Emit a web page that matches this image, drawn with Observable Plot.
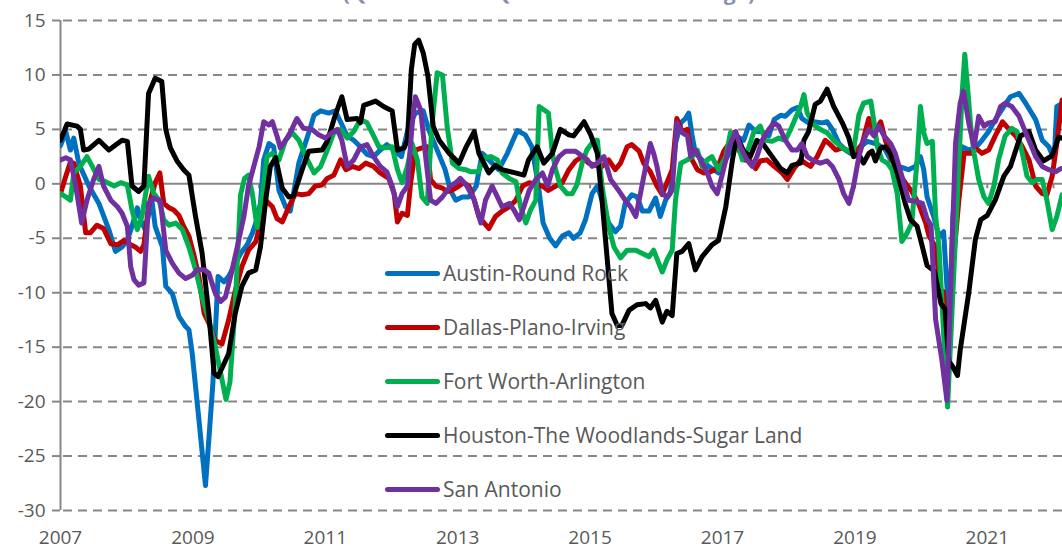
<!DOCTYPE html>
<html><head><meta charset="utf-8">
<script src="https://cdn.jsdelivr.net/npm/d3@7"></script>
<script src="https://cdn.jsdelivr.net/npm/@observablehq/plot@0.6"></script>
<style>
html,body{margin:0;padding:0;background:#fff;overflow:hidden;}
#wrap{position:relative;width:1062px;height:552px;overflow:hidden;font-family:"Open Sans",sans-serif;}
#title{position:absolute;left:0;width:1098px;text-align:center;top:-18px;line-height:20px;font-weight:bold;font-size:21px;color:#8a8fb5;white-space:nowrap;z-index:2;}
#chart{position:absolute;left:0;top:0;}
.lg{position:absolute;left:385px;height:0;white-space:nowrap;font-size:21px;color:#595959;}
.lg .sw{position:absolute;left:0;top:-2.5px;width:55px;height:5px;border-radius:3px;}
.lg .tx{position:absolute;left:58px;top:-15px;line-height:30px;}
</style></head>
<body>
<div id="wrap">
  <div id="title">(Quarter-over-Quarter Percent Change)</div>
  <div id="chart"></div>
  <div id="legend"></div>
</div>
<script>
const seriesNames = ["Austin-Round Rock","Dallas-Plano-Irving","Fort Worth-Arlington","Houston-The Woodlands-Sugar Land","San Antonio"];
const seriesColors = ["#0070C0","#C00000","#00B050","#000000","#7030A0"];
const yTicks = [-30,-25,-20,-15,-10,-5,0,5,10,15];
const xTickLabels = [2007,2009,2011,2013,2015,2017,2019,2021];
const xTickMarks = [2008,2009,2010,2011,2012,2013,2014,2015,2016,2017,2018,2019,2020,2021,2022];

const austin = [[2007.00,3.5],[2007.08,4.8],[2007.15,3.1],[2007.20,4.2],[2007.28,1.8],[2007.43,-0.2],[2007.58,-1.8],[2007.73,-4.2],[2007.83,-6.2],[2007.93,-5.8],[2008.01,-5.2],[2008.08,-3.9],[2008.16,-2.2],[2008.21,-3.3],[2008.28,-4.2],[2008.38,-1.5],[2008.43,-3.9],[2008.54,-5.8],[2008.59,-9.4],[2008.69,-10.1],[2008.79,-12.2],[2008.89,-13.1],[2008.94,-13.4],[2008.99,-15.6],[2009.08,-21.0],[2009.19,-27.7],[2009.30,-18.5],[2009.38,-8.5],[2009.47,-9.0],[2009.54,-8.5],[2009.72,-6.4],[2009.82,-5.6],[2009.90,-4.5],[2009.95,-3.6],[2010.02,-1.8],[2010.07,2.2],[2010.15,3.7],[2010.22,3.4],[2010.30,-0.6],[2010.40,-2.1],[2010.47,-2.5],[2010.52,-0.9],[2010.60,1.9],[2010.75,4.7],[2010.83,6.3],[2010.93,6.7],[2011.05,6.5],[2011.15,6.7],[2011.23,5.7],[2011.33,4.4],[2011.43,4.0],[2011.53,3.4],[2011.63,2.7],[2011.73,2.5],[2011.83,3.1],[2011.93,3.6],[2012.05,3.0],[2012.15,2.5],[2012.26,5.3],[2012.36,6.5],[2012.48,6.7],[2012.56,5.0],[2012.71,2.8],[2012.81,1.3],[2012.89,-0.6],[2012.97,-1.5],[2013.07,-1.2],[2013.17,-1.2],[2013.28,-0.2],[2013.37,2.8],[2013.47,2.2],[2013.62,1.3],[2013.75,2.8],[2013.90,4.9],[2014.02,4.5],[2014.12,3.4],[2014.22,-0.2],[2014.29,-3.6],[2014.39,-5.0],[2014.48,-5.7],[2014.58,-4.8],[2014.68,-4.5],[2014.75,-5.0],[2014.85,-4.5],[2014.93,-3.3],[2015.03,-0.9],[2015.11,-0.2],[2015.18,-1.5],[2015.28,-3.6],[2015.38,-4.4],[2015.46,-3.9],[2015.53,-1.8],[2015.63,-1.0],[2015.71,-1.2],[2015.79,-2.5],[2015.89,-2.5],[2015.99,-1.3],[2016.06,-3.0],[2016.14,-1.5],[2016.21,-0.9],[2016.29,3.7],[2016.37,5.6],[2016.44,6.0],[2016.49,6.5],[2016.54,4.5],[2016.59,2.8],[2016.79,1.6],[2016.94,1.0],[2017.10,2.8],[2017.20,4.4],[2017.32,4.0],[2017.40,5.4],[2017.50,4.8],[2017.60,4.8],[2017.70,4.4],[2017.78,5.9],[2017.88,6.3],[2017.95,6.2],[2018.05,6.8],[2018.13,7.0],[2018.20,6.0],[2018.30,5.6],[2018.38,5.7],[2018.51,5.6],[2018.58,5.7],[2018.66,5.0],[2018.76,3.7],[2018.86,3.1],[2018.96,2.7],[2019.06,3.3],[2019.19,3.9],[2019.31,3.7],[2019.44,3.3],[2019.54,2.2],[2019.66,1.6],[2019.81,1.3],[2019.91,1.6],[2019.99,2.5],[2020.04,1.3],[2020.09,-1.2],[2020.19,-3.0],[2020.27,-4.8],[2020.34,-4.4],[2020.39,-9.4],[2020.43,-12.5],[2020.48,-3.0],[2020.55,1.3],[2020.62,3.4],[2020.72,3.1],[2020.82,3.3],[2020.92,4.0],[2021.02,4.8],[2021.12,5.9],[2021.25,7.1],[2021.35,8.0],[2021.48,8.3],[2021.58,7.4],[2021.73,5.9],[2021.83,4.0],[2021.93,3.4],[2022.01,2.2],[2022.05,7.1],[2022.13,7.4]];

const dallas = [[2007.00,-0.9],[2007.08,0.7],[2007.15,2.0],[2007.20,1.9],[2007.30,-0.2],[2007.38,-4.5],[2007.45,-4.5],[2007.55,-3.8],[2007.65,-4.1],[2007.76,-5.5],[2007.86,-5.6],[2007.96,-5.2],[2008.06,-5.6],[2008.13,-5.8],[2008.21,-6.2],[2008.26,-5.6],[2008.33,-2.1],[2008.43,0.1],[2008.50,1.0],[2008.56,-1.8],[2008.64,-2.2],[2008.71,-2.4],[2008.79,-2.9],[2008.86,-3.9],[2008.94,-4.8],[2009.01,-6.4],[2009.09,-8.5],[2009.17,-11.9],[2009.24,-12.8],[2009.34,-14.4],[2009.44,-14.7],[2009.54,-12.5],[2009.64,-9.8],[2009.74,-7.6],[2009.84,-6.1],[2009.95,-5.3],[2010.02,-3.6],[2010.10,-1.5],[2010.20,-2.1],[2010.27,-3.2],[2010.35,-3.5],[2010.45,-2.1],[2010.55,-0.9],[2010.65,-1.0],[2010.75,-0.9],[2010.85,-0.2],[2010.95,-0.1],[2011.03,0.5],[2011.13,0.8],[2011.23,2.2],[2011.31,1.3],[2011.41,1.6],[2011.51,1.4],[2011.61,1.9],[2011.73,1.6],[2011.83,1.0],[2011.96,0.5],[2012.04,-0.9],[2012.09,-3.5],[2012.16,-2.7],[2012.24,-2.9],[2012.29,0.1],[2012.36,3.1],[2012.46,3.3],[2012.54,3.4],[2012.59,0.4],[2012.67,-0.2],[2012.77,-0.4],[2012.84,-0.7],[2012.91,-0.6],[2013.02,-0.2],[2013.09,0.1],[2013.17,-0.2],[2013.25,-1.5],[2013.32,-3.0],[2013.40,-3.6],[2013.47,-4.1],[2013.57,-3.0],[2013.67,-2.5],[2013.78,-2.1],[2013.88,-1.5],[2013.98,-0.2],[2014.08,0.1],[2014.18,-0.1],[2014.28,-0.2],[2014.37,-0.6],[2014.48,-0.2],[2014.58,0.1],[2014.68,1.3],[2014.78,2.1],[2014.88,2.5],[2014.98,1.9],[2015.08,1.7],[2015.18,1.6],[2015.28,2.2],[2015.38,1.3],[2015.46,1.9],[2015.56,3.4],[2015.63,3.6],[2015.74,3.0],[2015.81,1.9],[2015.91,1.1],[2016.01,-0.2],[2016.09,-1.0],[2016.16,0.1],[2016.24,1.3],[2016.31,6.0],[2016.39,4.8],[2016.47,5.0],[2016.54,2.2],[2016.62,1.3],[2016.72,1.0],[2016.82,1.1],[2016.92,1.4],[2017.02,3.0],[2017.10,3.7],[2017.17,4.7],[2017.25,3.1],[2017.32,2.2],[2017.42,2.1],[2017.50,1.4],[2017.57,2.1],[2017.67,2.2],[2017.78,1.6],[2017.90,1.0],[2017.98,0.4],[2018.08,1.4],[2018.18,2.2],[2018.25,1.9],[2018.33,1.6],[2018.43,2.5],[2018.55,4.0],[2018.63,3.6],[2018.71,3.1],[2018.81,3.3],[2018.91,3.0],[2019.01,2.8],[2019.11,3.7],[2019.21,6.0],[2019.29,4.7],[2019.39,5.7],[2019.46,4.0],[2019.56,2.2],[2019.66,1.0],[2019.76,0.1],[2019.86,-0.7],[2019.96,-1.8],[2020.07,-3.6],[2020.12,-4.8],[2020.22,-5.8],[2020.29,-9.8],[2020.34,-9.9],[2020.41,-17.0],[2020.49,-7.0],[2020.57,-1.5],[2020.65,2.8],[2020.75,2.8],[2020.82,3.3],[2020.92,2.8],[2021.02,3.1],[2021.12,4.4],[2021.23,5.7],[2021.33,5.0],[2021.43,4.4],[2021.53,3.4],[2021.63,2.2],[2021.73,-0.2],[2021.83,-0.9],[2021.90,-1.0],[2021.98,0.7],[2022.05,3.7],[2022.13,7.7]];

const fortWorth = [[2007.00,-0.9],[2007.08,-1.2],[2007.15,-1.5],[2007.20,1.0],[2007.30,1.6],[2007.40,2.5],[2007.48,1.6],[2007.58,0.4],[2007.68,0.2],[2007.81,-0.2],[2007.91,0.1],[2008.01,-0.1],[2008.08,-2.4],[2008.16,-4.2],[2008.23,-3.0],[2008.33,0.7],[2008.41,-0.9],[2008.49,-1.5],[2008.56,-3.3],[2008.64,-3.8],[2008.74,-3.6],[2008.84,-4.2],[2008.94,-5.8],[2009.04,-7.9],[2009.14,-10.4],[2009.24,-12.5],[2009.34,-15.0],[2009.42,-17.4],[2009.50,-19.8],[2009.56,-18.2],[2009.64,-11.0],[2009.72,-1.0],[2009.78,0.5],[2009.84,0.8],[2009.90,-1.0],[2009.97,-4.0],[2010.05,-1.0],[2010.12,2.5],[2010.20,2.8],[2010.30,2.2],[2010.40,4.0],[2010.50,4.7],[2010.60,4.0],[2010.73,2.2],[2010.83,1.0],[2010.93,1.6],[2011.03,3.1],[2011.13,4.7],[2011.23,5.0],[2011.33,4.2],[2011.43,4.8],[2011.53,5.9],[2011.63,5.6],[2011.73,4.4],[2011.81,3.4],[2011.91,3.3],[2012.01,3.4],[2012.09,1.3],[2012.16,0.1],[2012.24,1.6],[2012.31,3.7],[2012.39,2.2],[2012.46,-1.2],[2012.54,-1.8],[2012.61,5.3],[2012.69,10.2],[2012.77,10.0],[2012.84,5.3],[2012.92,1.9],[2013.02,1.4],[2013.12,1.3],[2013.20,1.1],[2013.31,1.1],[2013.40,2.4],[2013.50,2.5],[2013.60,2.2],[2013.67,1.0],[2013.78,0.5],[2013.88,0.2],[2013.95,-2.1],[2014.03,-3.6],[2014.10,-2.4],[2014.18,-1.5],[2014.23,7.1],[2014.30,6.8],[2014.37,6.5],[2014.43,2.8],[2014.48,1.3],[2014.55,-0.2],[2014.65,-0.9],[2014.73,-0.9],[2014.80,-0.1],[2014.88,1.9],[2014.95,3.1],[2015.06,4.0],[2015.11,4.0],[2015.18,-0.2],[2015.28,-3.9],[2015.36,-5.8],[2015.46,-6.8],[2015.56,-6.1],[2015.69,-6.1],[2015.79,-6.4],[2015.89,-6.7],[2015.96,-6.1],[2016.09,-8.1],[2016.16,-7.0],[2016.24,-6.1],[2016.29,-1.5],[2016.37,1.9],[2016.47,2.2],[2016.54,2.5],[2016.62,3.1],[2016.69,1.6],[2016.77,2.2],[2016.84,2.5],[2016.94,1.3],[2017.05,2.5],[2017.12,4.7],[2017.22,4.0],[2017.30,2.2],[2017.40,3.4],[2017.47,4.7],[2017.57,5.3],[2017.65,4.0],[2017.75,3.9],[2017.85,4.2],[2017.95,4.0],[2018.03,5.0],[2018.10,6.0],[2018.18,7.1],[2018.23,8.2],[2018.28,6.5],[2018.38,5.4],[2018.48,5.0],[2018.58,4.7],[2018.68,4.0],[2018.81,3.3],[2018.91,3.0],[2018.98,3.1],[2019.06,6.3],[2019.13,7.4],[2019.24,7.6],[2019.29,5.6],[2019.34,3.4],[2019.41,2.2],[2019.49,1.9],[2019.56,1.3],[2019.64,-0.9],[2019.71,-5.3],[2019.79,-4.5],[2019.86,-3.6],[2019.94,2.2],[2019.99,7.1],[2020.04,4.7],[2020.09,3.7],[2020.17,3.9],[2020.22,-3.0],[2020.27,-5.8],[2020.40,-20.5],[2020.62,8.3],[2020.66,11.9],[2020.70,9.0],[2020.75,5.3],[2020.80,2.8],[2020.87,0.4],[2020.95,-1.2],[2021.02,-1.8],[2021.10,-0.2],[2021.17,2.2],[2021.27,4.4],[2021.37,5.1],[2021.45,4.8],[2021.53,2.8],[2021.60,0.7],[2021.68,0.1],[2021.75,0.4],[2021.83,0.4],[2021.90,-1.5],[2021.98,-4.2],[2022.05,-3.0],[2022.13,-1.0]];

const houston = [[2007.00,4.0],[2007.10,5.5],[2007.25,5.3],[2007.30,5.0],[2007.35,3.1],[2007.43,3.2],[2007.58,4.0],[2007.73,3.1],[2007.93,4.0],[2008.01,3.9],[2008.08,-0.2],[2008.18,-0.7],[2008.26,-0.2],[2008.33,8.3],[2008.43,9.7],[2008.53,9.4],[2008.59,5.0],[2008.66,3.3],[2008.76,2.1],[2008.86,1.3],[2008.94,0.8],[2009.04,-3.0],[2009.14,-6.4],[2009.24,-11.9],[2009.32,-17.4],[2009.38,-17.7],[2009.54,-15.6],[2009.64,-11.9],[2009.74,-9.4],[2009.84,-8.2],[2009.95,-7.9],[2010.02,-5.8],[2010.10,-1.5],[2010.17,1.6],[2010.25,2.4],[2010.35,-0.4],[2010.45,-1.2],[2010.52,-1.1],[2010.65,1.3],[2010.75,3.0],[2010.95,3.1],[2011.03,3.9],[2011.15,6.3],[2011.25,8.0],[2011.33,5.9],[2011.48,6.0],[2011.53,5.6],[2011.58,7.2],[2011.76,7.6],[2011.88,7.1],[2012.01,6.7],[2012.09,3.1],[2012.19,3.3],[2012.24,4.0],[2012.30,10.5],[2012.35,12.8],[2012.41,13.2],[2012.48,12.0],[2012.55,9.9],[2012.63,5.3],[2012.72,4.0],[2012.87,2.8],[2012.97,2.2],[2013.02,1.9],[2013.12,3.3],[2013.25,4.8],[2013.32,2.8],[2013.47,1.0],[2013.57,1.7],[2013.67,1.3],[2013.87,1.0],[2014.00,0.8],[2014.07,2.2],[2014.20,3.4],[2014.30,1.9],[2014.43,2.8],[2014.55,5.0],[2014.68,4.5],[2014.75,4.4],[2014.91,5.7],[2015.01,4.5],[2015.11,2.8],[2015.18,-1.5],[2015.26,-7.0],[2015.33,-11.9],[2015.41,-13.0],[2015.48,-13.0],[2015.59,-11.6],[2015.71,-11.1],[2015.84,-11.0],[2015.91,-11.4],[2015.99,-10.7],[2016.09,-12.7],[2016.16,-11.7],[2016.24,-12.1],[2016.31,-6.4],[2016.39,-6.2],[2016.49,-5.5],[2016.59,-7.9],[2016.69,-6.7],[2016.84,-5.6],[2016.94,-5.2],[2017.05,-2.1],[2017.15,2.2],[2017.22,4.4],[2017.32,3.0],[2017.42,2.5],[2017.52,4.0],[2017.62,3.6],[2017.75,2.5],[2017.88,1.4],[2017.98,1.0],[2018.05,1.7],[2018.18,1.9],[2018.23,4.0],[2018.30,4.8],[2018.40,7.3],[2018.48,7.6],[2018.58,8.7],[2018.68,7.1],[2018.81,5.6],[2018.91,4.2],[2018.98,2.5],[2019.06,2.7],[2019.13,1.9],[2019.21,2.8],[2019.26,3.0],[2019.31,2.1],[2019.39,3.3],[2019.46,3.4],[2019.54,2.8],[2019.64,1.0],[2019.76,-1.8],[2019.84,-3.3],[2019.94,-3.9],[2020.02,-5.8],[2020.09,-7.5],[2020.20,-8.0],[2020.30,-11.0],[2020.36,-11.5],[2020.42,-16.3],[2020.48,-16.8],[2020.55,-17.6],[2020.59,-15.3],[2020.72,-10.0],[2020.82,-5.1],[2020.90,-3.3],[2021.00,-2.9],[2021.12,-1.5],[2021.25,0.7],[2021.35,1.6],[2021.50,4.4],[2021.63,4.8],[2021.73,3.1],[2021.85,2.1],[2021.98,2.6],[2022.08,4.3],[2022.13,4.2]];

const sanAntonio = [[2007.00,2.2],[2007.08,2.4],[2007.15,2.2],[2007.23,-0.2],[2007.32,-3.6],[2007.40,-1.5],[2007.50,0.4],[2007.58,1.6],[2007.65,-0.2],[2007.76,-1.5],[2007.86,-2.1],[2007.93,-2.7],[2008.01,-3.9],[2008.06,-7.6],[2008.11,-8.8],[2008.18,-9.3],[2008.26,-9.1],[2008.33,-1.8],[2008.41,-1.3],[2008.51,-1.6],[2008.59,-6.1],[2008.69,-7.3],[2008.79,-8.2],[2008.89,-8.7],[2008.99,-8.4],[2009.06,-7.9],[2009.17,-7.9],[2009.24,-8.2],[2009.34,-10.1],[2009.42,-10.8],[2009.49,-10.4],[2009.57,-8.5],[2009.67,-5.8],[2009.77,-3.0],[2009.84,-0.2],[2009.92,1.6],[2010.00,3.4],[2010.07,5.7],[2010.15,5.4],[2010.20,5.7],[2010.27,4.4],[2010.32,3.3],[2010.40,4.0],[2010.47,4.7],[2010.57,6.0],[2010.67,5.1],[2010.80,5.0],[2010.90,4.5],[2011.00,4.2],[2011.10,4.7],[2011.18,5.0],[2011.25,4.0],[2011.33,1.6],[2011.43,2.2],[2011.53,3.4],[2011.63,3.6],[2011.73,2.5],[2011.83,1.6],[2011.93,1.1],[2012.01,-0.2],[2012.09,-2.1],[2012.16,-0.9],[2012.24,-0.2],[2012.31,5.3],[2012.36,8.0],[2012.44,6.8],[2012.51,2.8],[2012.59,-1.5],[2012.67,-1.8],[2012.77,-1.2],[2012.89,-0.2],[2012.97,0.1],[2013.04,0.5],[2013.14,-0.2],[2013.25,-1.5],[2013.35,-3.6],[2013.42,-1.5],[2013.52,-0.2],[2013.60,-1.2],[2013.67,-2.1],[2013.78,-1.8],[2013.85,-2.4],[2013.93,-3.3],[2014.00,-2.1],[2014.08,-0.6],[2014.18,0.4],[2014.28,1.0],[2014.36,-0.2],[2014.43,1.3],[2014.53,2.5],[2014.63,3.0],[2014.78,3.0],[2014.96,2.2],[2015.03,1.6],[2015.11,1.9],[2015.21,2.5],[2015.31,0.4],[2015.43,-0.6],[2015.53,-1.5],[2015.61,-2.1],[2015.69,-3.0],[2015.76,-0.9],[2015.84,1.6],[2015.91,3.7],[2015.96,2.8],[2016.01,1.6],[2016.09,-0.9],[2016.16,-1.2],[2016.24,-0.6],[2016.31,5.6],[2016.39,4.7],[2016.47,4.4],[2016.52,2.5],[2016.59,3.1],[2016.67,2.2],[2016.77,1.0],[2016.84,-0.2],[2016.92,-0.9],[2016.99,0.7],[2017.10,3.4],[2017.20,4.8],[2017.27,3.4],[2017.37,2.2],[2017.45,1.6],[2017.52,2.5],[2017.60,4.0],[2017.70,5.0],[2017.78,5.6],[2017.85,5.3],[2017.95,4.0],[2018.05,3.1],[2018.13,3.1],[2018.20,3.7],[2018.28,2.5],[2018.38,2.1],[2018.48,1.9],[2018.58,2.1],[2018.66,1.6],[2018.76,0.4],[2018.83,-0.9],[2018.91,-1.8],[2018.98,-0.2],[2019.06,2.5],[2019.13,4.0],[2019.21,5.0],[2019.29,4.4],[2019.36,5.3],[2019.44,4.4],[2019.54,3.7],[2019.61,2.8],[2019.71,0.7],[2019.81,-1.5],[2019.92,-1.6],[2020.02,-1.8],[2020.09,-3.2],[2020.15,-3.8],[2020.22,-12.5],[2020.31,-16.0],[2020.39,-19.9],[2020.52,3.7],[2020.59,7.4],[2020.64,8.5],[2020.72,5.6],[2020.80,3.4],[2020.87,6.2],[2020.95,5.3],[2021.02,5.6],[2021.12,5.7],[2021.20,7.1],[2021.27,7.4],[2021.37,7.1],[2021.48,6.2],[2021.58,4.7],[2021.65,3.7],[2021.73,2.5],[2021.83,1.6],[2021.93,1.3],[2022.03,1.1],[2022.11,1.4]];

const seriesData = [austin, dallas, fortWorth, houston, sanAntonio];
const grid = "#878787";

const lineMarks = seriesData.map((arr, i) =>
  Plot.line(arr, {x: d => d[0], y: d => d[1], stroke: seriesColors[i], strokeWidth: 5,
    strokeLinejoin: "round", strokeLinecap: "round", clip: true}));

const chart = Plot.plot({
  width: 1062, height: 552,
  marginLeft: 60, marginRight: 0, marginTop: 20, marginBottom: 42,
  x: {domain: [2007, 2022.136], axis: null},
  y: {domain: [-30, 15], axis: null},
  style: {fontFamily: "'Open Sans', sans-serif", fontSize: "19px", color: "#595959", background: "transparent", overflow: "visible"},
  marks: [
    Plot.ruleY(yTicks.filter(d => d !== 0), {stroke: grid, strokeWidth: 2, strokeDasharray: "9,6", strokeDashoffset: -3}),
    Plot.ruleY([0], {stroke: grid, strokeWidth: 2}),
    Plot.ruleX([2007], {stroke: grid, strokeWidth: 2}),
    Plot.ruleX(xTickMarks, {x: d => d, y1: 0, y2: -0.45, stroke: grid, strokeWidth: 2}),
    Plot.axisY({ticks: yTicks, tickSize: 8, tickPadding: 7, stroke: grid, strokeWidth: 2, fill: "#595959", fontSize: 19, tickFormat: d => String(d)}),
    Plot.axisX({ticks: xTickLabels, tickSize: 0, tickPadding: 20, fill: "#595959", fontSize: 19, tickFormat: d => String(d)}),
    ...lineMarks
  ]
});
document.getElementById("chart").appendChild(chart);

// legend overlay
const lg = document.getElementById("legend");
seriesNames.forEach((name, i) => {
  const row = document.createElement("div");
  row.className = "lg";
  row.style.top = (273 + i * 54) + "px";
  row.innerHTML = `<span class="sw" style="background:${seriesColors[i]}"></span><span class="tx">${name}</span>`;
  lg.appendChild(row);
});
</script>
</body></html>
